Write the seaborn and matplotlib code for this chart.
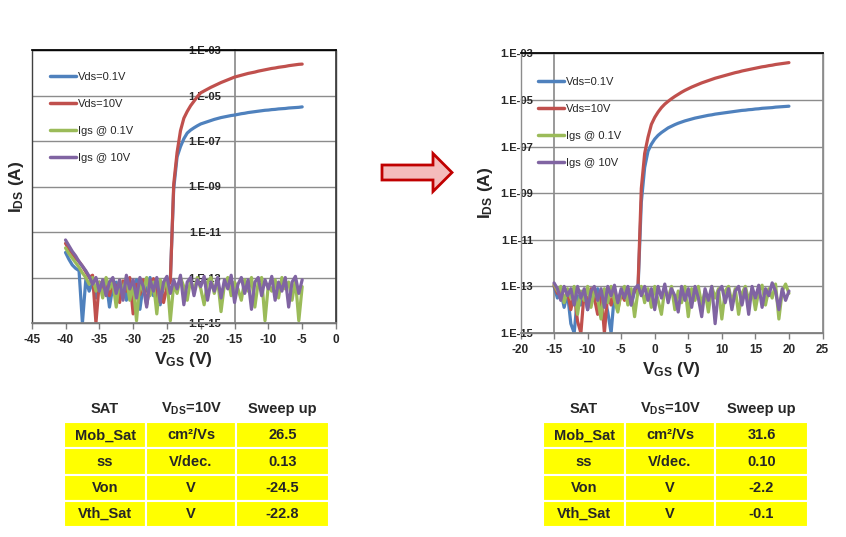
import numpy as np
import pandas as pd
import seaborn as sns
import matplotlib.pyplot as plt
from matplotlib.patches import FancyArrow, Rectangle
from matplotlib.ticker import FixedLocator, FuncFormatter, NullLocator


# curve names / colours (Excel 2007 palette)
labels = ['Vds=0.1V', 'Vds=10V', 'Igs @ 0.1V', 'Igs @ 10V']
colors = ['#4F81BD', '#C0504D', '#9BBB59', '#8064A2']

# VGS sweeps (V), 0.5 V step
left_vgs = np.linspace(-40, -5, 71)
right_vgs = np.linspace(-15, 20, 71)

# log10 of current (A)
left_vds01 = [-11.9, -12.2, -12.45, -12.6, -12.7, -15.0, -13.1, -13.6, -13.2, -13.9,
              -13.3, -13.7, -13.1, -14.3, -13.4, -13.2, -13.9, -13.3, -14.0, -13.25,
              -13.5, -13.1, -14.4, -13.3, -13.6, -13.0, -13.8, -13.35, -14.2, -13.3,
              -13.5, -13.1, -9.1, -7.7, -7.25, -6.9, -6.65, -6.52, -6.42, -6.33,
              -6.25, -6.2, -6.15, -6.1, -6.05, -6.01, -5.97, -5.94, -5.91, -5.88,
              -5.86, -5.83, -5.8, -5.78, -5.75, -5.73, -5.71, -5.69, -5.67, -5.65,
              -5.64, -5.62, -5.61, -5.59, -5.58, -5.57, -5.55, -5.54, -5.53, -5.52, -5.5]
left_vds10 = [-11.5, -11.75, -11.95, -12.15, -12.3, -12.5, -12.75, -13.0, -12.9, -15.0,
              -13.2, -13.5, -13.05, -13.8, -13.2, -13.4, -14.1, -13.15, -13.6, -13.0,
              -14.6, -13.3, -13.75, -13.1, -14.2, -13.4, -13.05, -13.9, -13.3, -14.1,
              -13.4, -13.2, -8.9, -7.5, -6.55, -6.0, -5.7, -5.45, -5.25, -5.05,
              -4.88, -4.8, -4.72, -4.64, -4.57, -4.5, -4.43, -4.37, -4.31, -4.25,
              -4.19, -4.15, -4.11, -4.07, -4.03, -4.0, -3.97, -3.93, -3.9, -3.87,
              -3.84, -3.81, -3.79, -3.76, -3.74, -3.72, -3.69, -3.67, -3.65, -3.63, -3.62]
left_igs01 = [-11.7, -11.95, -12.15, -12.35, -12.55, -12.8, -13.0, -13.3, -13.0, -13.6,
              -13.2, -13.9, -13.0, -13.5, -13.2, -14.3, -13.1, -13.6, -13.0, -14.0,
              -13.3, -14.9, -13.2, -13.6, -13.0, -13.8, -13.2, -14.6, -13.1, -13.5,
              -13.0, -14.9, -13.3, -13.7, -13.0, -13.4, -14.0, -13.1, -13.6, -13.0,
              -13.5, -14.2, -13.2, -13.0, -13.7, -13.1, -14.5, -13.3, -13.0, -13.8,
              -13.2, -13.5, -14.0, -13.1, -13.6, -13.0, -14.3, -13.2, -13.0, -14.9,
              -13.3, -13.6, -13.1, -13.9, -13.0, -13.5, -13.2, -14.0, -13.1, -14.9, -13.4]
left_igs10 = [-11.35, -11.6, -11.85, -12.05, -12.3, -12.5, -12.7, -12.95, -13.3, -13.0,
              -13.6, -13.1, -13.8, -13.2, -13.0, -13.7, -13.1, -14.0, -12.9, -13.5,
              -13.1, -13.9, -13.0, -13.4, -14.3, -13.1, -13.6, -13.0, -14.1, -13.2,
              -12.95, -13.7, -13.1, -13.5, -12.9, -14.2, -13.2, -13.0, -13.8, -13.1,
              -13.4, -12.95, -14.0, -13.2, -13.6, -13.0, -13.9, -13.1, -13.5, -12.9,
              -14.1, -13.3, -13.0, -13.7, -13.1, -14.4, -13.2, -13.0, -13.8, -13.1,
              -13.5, -12.95, -14.0, -13.2, -13.6, -13.0, -14.3, -13.2, -12.95, -13.7, -13.1]

right_vds01 = [-13.0, -13.5, -13.2, -13.9, -13.3, -14.6, -15.0, -13.4, -13.8, -13.2,
               -14.0, -13.3, -13.6, -13.1, -14.3, -13.4, -14.1, -15.0, -13.3, -13.7,
               -13.2, -13.5, -13.1, -13.8, -13.2, -13.2, -9.4, -7.9, -7.2, -6.9,
               -6.68, -6.52, -6.4, -6.3, -6.2, -6.13, -6.06, -6.0, -5.95, -5.9,
               -5.86, -5.82, -5.78, -5.75, -5.72, -5.69, -5.66, -5.64, -5.61, -5.59,
               -5.57, -5.55, -5.53, -5.51, -5.49, -5.47, -5.45, -5.44, -5.42, -5.41,
               -5.39, -5.38, -5.36, -5.35, -5.34, -5.33, -5.31, -5.3, -5.29, -5.28, -5.27]
right_vds10 = [-12.95, -13.3, -13.1, -13.6, -13.2, -14.0, -13.3, -14.5, -15.0, -13.2,
               -13.7, -13.1, -13.5, -14.2, -13.2, -15.0, -13.3, -13.8, -13.2, -14.0,
               -13.3, -13.6, -13.1, -13.5, -13.2, -13.1, -8.8, -7.3, -6.6, -6.05,
               -5.75, -5.52, -5.33, -5.18, -5.06, -4.95, -4.85, -4.76, -4.67, -4.59,
               -4.52, -4.45, -4.39, -4.33, -4.27, -4.22, -4.17, -4.12, -4.07, -4.03,
               -3.99, -3.95, -3.91, -3.87, -3.83, -3.8, -3.76, -3.73, -3.7, -3.67,
               -3.64, -3.61, -3.58, -3.56, -3.53, -3.51, -3.48, -3.46, -3.44, -3.42, -3.4]
right_igs01 = [-12.9, -13.2, -13.0, -13.7, -13.1, -13.5, -13.0, -14.2, -13.2, -13.6,
               -13.0, -13.9, -13.2, -13.5, -14.4, -13.1, -13.7, -13.0, -13.6, -14.1,
               -13.2, -13.0, -13.8, -13.1, -14.3, -13.2, -13.0, -13.7, -13.1, -13.9,
               -13.0, -13.6, -14.2, -13.1, -13.5, -13.0, -14.0, -13.2, -13.7, -13.0,
               -14.3, -13.1, -13.6, -13.0, -13.8, -13.2, -14.1, -13.0, -13.5, -13.1,
               -14.4, -13.2, -13.0, -13.7, -13.1, -14.2, -13.3, -13.0, -13.6, -13.1,
               -14.0, -13.2, -12.95, -13.8, -13.1, -13.5, -12.9, -14.4, -13.2, -12.9, -13.3]
right_igs10 = [-12.85, -13.1, -13.6, -13.0, -13.4, -13.1, -13.8, -13.0, -13.5, -13.1,
               -14.0, -13.2, -13.0, -13.6, -13.1, -13.9, -13.0, -13.4, -12.95, -13.7,
               -13.1, -13.5, -13.0, -13.8, -13.1, -12.95, -13.4, -13.0, -13.6, -13.1,
               -14.0, -13.0, -13.5, -12.9, -13.7, -13.1, -13.4, -14.1, -13.0, -13.6,
               -13.1, -13.9, -13.0, -13.5, -14.3, -13.1, -13.6, -13.0, -14.6, -13.2,
               -13.0, -13.7, -13.1, -14.0, -13.2, -13.0, -13.8, -13.1, -14.2, -13.0,
               -13.5, -12.95, -13.9, -13.1, -13.4, -12.85, -13.2, -14.0, -13.1, -13.6, -13.2]

# axis ticks
left_xticks = [-45, -40, -35, -30, -25, -20, -15, -10, -5, 0]
right_xticks = [-20, -15, -10, -5, 0, 5, 10, 15, 20, 25]
yticks = [1e-15, 1e-13, 1e-11, 1e-9, 1e-7, 1e-5, 1e-3]

# extracted parameters
table_header = ['SAT', r'V$_{\mathbf{DS}}$=10V', 'Sweep up']
table_params = ['Mob_Sat', 'ss', 'Von', 'Vth_Sat']
table_units = ['cm²/Vs', 'V/dec.', 'V', 'V']
left_values = ['26.5', '0.13', '-24.5', '-22.8']
right_values = ['31.6', '0.10', '-2.2', '-0.1']


sns.set_theme(style='white')
plt.rcParams['font.family'] = ['Liberation Sans', 'DejaVu Sans']
plt.rcParams['axes.unicode_minus'] = False
plt.rcParams['mathtext.fontset'] = 'custom'
plt.rcParams['mathtext.rm'] = 'Liberation Sans'
plt.rcParams['mathtext.bf'] = 'Liberation Sans:bold'
plt.rcParams['mathtext.it'] = 'Liberation Sans:italic'

W, H = 846, 537
fig = plt.figure(figsize=(W / 100, H / 100), dpi=100)

# overlay in pixel coords for the arrow and tables
over = fig.add_axes([0, 0, 1, 1])
over.set_xlim(0, W)
over.set_ylim(H, 0)
over.axis('off')


def make_frame(vgs, logs):
    parts = []
    for name, vals in zip(labels, logs):
        parts.append(pd.DataFrame({'VGS': vgs, 'I': 10.0 ** np.array(vals), 'curve': name}))
    return pd.concat(parts, ignore_index=True)


def px_axes(x0, x1, ytop, ybot):
    return fig.add_axes([x0 / W, (H - ybot) / H, (x1 - x0) / W, (ybot - ytop) / H])


def draw_panel(ax, df, xlim, xticks, ypad, leg_xy, ylab_x, frame_ec):
    sns.lineplot(data=df, x='VGS', y='I', hue='curve', hue_order=labels,
                 palette=dict(zip(labels, colors)), lw=2.3, estimator=None,
                 errorbar=None, ax=ax)
    ax.set_yscale('log')
    ax.set_xlim(*xlim)
    ax.set_ylim(1e-15, 1e-3)
    ax.xaxis.set_major_locator(FixedLocator(xticks))
    ax.yaxis.set_major_locator(FixedLocator(yticks))
    ax.yaxis.set_minor_locator(NullLocator())
    ax.yaxis.set_major_formatter(FuncFormatter(lambda v, p: f'1.E{int(round(np.log10(v))):+03d}'))
    ax.yaxis.grid(True, color='#8c8c8c', lw=1)
    ax.xaxis.grid(False)
    ax.set_axisbelow(True)

    # y axis crosses at -15
    ax.spines['left'].set_position(('data', -15))
    ax.spines['left'].set_color('#8c8c8c')
    ax.spines['left'].set_zorder(0.5)
    ax.spines['bottom'].set_color('#7f7f7f')
    ax.spines['top'].set_color('black')
    ax.spines['right'].set_color(frame_ec)
    ax.add_patch(Rectangle((0, 0), 1, 1, transform=ax.transAxes, fill=False,
                           ec=frame_ec, lw=1, clip_on=False, zorder=0.6))

    ax.tick_params(axis='y', length=0, pad=ypad, labelsize=8)
    ax.tick_params(axis='x', bottom=True, length=4, width=1, color='#7f7f7f',
                   direction='out', pad=4, labelsize=8.5)
    for t in ax.get_xticklabels() + ax.get_yticklabels():
        t.set_fontweight('bold')

    ax.set_xlabel(r'V$_{\mathbf{GS}}$ (V)', fontsize=12.5, fontweight='bold', labelpad=3)
    ax.set_ylabel(r'I$_{\mathbf{DS}}$ (A)', fontsize=12.5, fontweight='bold')
    ax.yaxis.set_label_coords(ylab_x, 0.5)

    ax.legend(loc='upper left', bbox_to_anchor=(leg_xy[0] / W, 1 - leg_xy[1] / H),
              bbox_transform=fig.transFigure, frameon=False, fontsize=8,
              handlelength=2.3, handletextpad=0.2, labelspacing=1.53,
              borderpad=0, borderaxespad=0)
    for line in ax.get_legend().get_lines():
        line.set_linewidth(2.5)


ax1 = px_axes(31.7, 336, 50, 323)
draw_panel(ax1, make_frame(left_vgs, [left_vds01, left_vds10, left_igs01, left_igs10]),
           (-45, 0), left_xticks, 9.5, (50, 72), -0.02, '#404040')

ax2 = px_axes(520.5, 822.5, 53.3, 333)
draw_panel(ax2, make_frame(right_vgs, [right_vds01, right_vds10, right_igs01, right_igs10]),
           (-20, 25), right_xticks, 15, (538, 77), -0.085, '#8c8c8c')

# arrow between the panels
over.add_patch(FancyArrow(382, 172.5, 70, 0, width=15, head_width=38, head_length=19,
                          length_includes_head=True, fc='#F4BCBC', ec='#C00000', lw=2))


def draw_table(x0, values):
    rows = [table_header] + [[p, u, v] for p, u, v in zip(table_params, table_units, values)]
    widths = np.array([82, 90, 93])
    tb = over.table(cellText=rows, cellLoc='center',
                    colWidths=list(widths / widths.sum()),
                    bbox=[x0 / W, (H - 527) / H, widths.sum() / W, 131 / H])
    tb.auto_set_font_size(False)
    tb.set_fontsize(10.5)
    for (r, c), cell in tb.get_celld().items():
        cell.set_edgecolor('white')
        cell.set_linewidth(1.5)
        cell.set_facecolor('white' if r == 0 else '#FFFF00')
        cell.get_text().set_fontweight('bold')


draw_table(64, left_values)
draw_table(543, right_values)

fig.savefig('out.png', dpi=100)
